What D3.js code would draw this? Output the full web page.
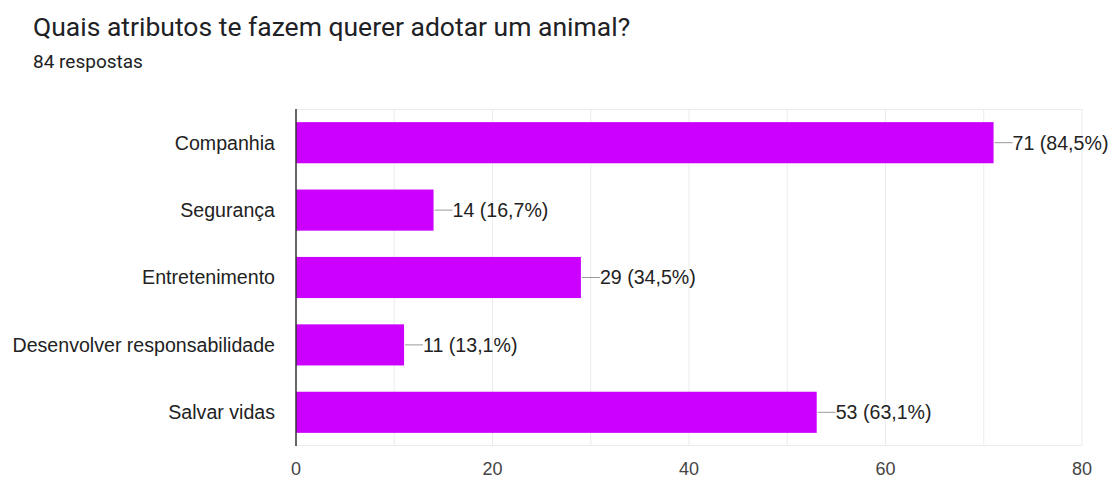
<!DOCTYPE html>
<html>
<head>
<meta charset="utf-8">
<script src="https://cdn.jsdelivr.net/npm/d3@7"></script>
<style>
  html, body { margin: 0; padding: 0; background: #fff; }
  svg { display: block; }
</style>
</head>
<body>
<svg id="chart" width="1112" height="480"></svg>
<script>
// Survey answers: "Quais atributos te fazem querer adotar um animal?"
const title = "Quais atributos te fazem querer adotar um animal?";
const subtitle = "84 respostas";
const categories = ["Companhia", "Segurança", "Entretenimento", "Desenvolver responsabilidade", "Salvar vidas"];
const counts = [71, 14, 29, 11, 53];
const percents = ["84,5%", "16,7%", "34,5%", "13,1%", "63,1%"];
const tickValues = [0, 20, 40, 60, 80];
const gridValues = [10, 20, 30, 40, 50, 60, 70, 80];

const svg = d3.select("#chart");
const margin = { left: 296, right: 30, top: 109, bottom: 34 };
const W = 1112, H = 480;
const labelFont = "'Liberation Sans', Arial, sans-serif";

const x = d3.scaleLinear().domain([0, 80]).range([margin.left, W - margin.right]);
const y = d3.scaleBand().domain(categories).range([margin.top, H - margin.bottom])
  .paddingInner(0.39).paddingOuter(0.195);

// Title block
svg.append("text").attr("x", 33).attr("y", 36)
  .attr("font-family", "Roboto, 'Noto Sans', sans-serif").attr("font-size", 26.5)
  .attr("fill", "#202124").text(title);
svg.append("text").attr("x", 33).attr("y", 68)
  .attr("font-family", "Roboto, 'Noto Sans', sans-serif").attr("font-size", 19)
  .attr("fill", "#202124").text(subtitle);

// Gridlines
svg.append("g").selectAll("line").data(gridValues).join("line")
  .attr("x1", d => x(d)).attr("x2", d => x(d))
  .attr("y1", margin.top).attr("y2", H - margin.bottom)
  .attr("stroke", "#ebebeb").attr("stroke-width", 1);
// Top and bottom frame lines
svg.append("line").attr("x1", x(0)).attr("x2", x(80))
  .attr("y1", margin.top + 0.5).attr("y2", margin.top + 0.5)
  .attr("stroke", "#ebebeb");
svg.append("line").attr("x1", x(0)).attr("x2", x(80))
  .attr("y1", H - margin.bottom - 0.5).attr("y2", H - margin.bottom - 0.5)
  .attr("stroke", "#ebebeb");

// Bars
svg.append("g").selectAll("rect").data(categories).join("rect")
  .attr("x", x(0)).attr("y", d => y(d))
  .attr("width", (d, i) => x(counts[i]) - x(0))
  .attr("height", y.bandwidth())
  .attr("fill", "#cc00ff");

// Baseline axis
svg.append("line").attr("x1", x(0)).attr("x2", x(0))
  .attr("y1", margin.top).attr("y2", H - margin.bottom)
  .attr("stroke", "#333").attr("stroke-width", 1.5);

// Category labels
svg.append("g").selectAll("text").data(categories).join("text")
  .attr("x", x(0) - 21).attr("y", d => y(d) + y.bandwidth() / 2)
  .attr("dy", "0.35em").attr("text-anchor", "end")
  .attr("font-family", labelFont).attr("font-size", 19.6)
  .attr("fill", "#222").text(d => d);

// Value annotations with leader lines
const ann = svg.append("g").selectAll("g").data(categories).join("g");
ann.append("line")
  .attr("x1", (d, i) => x(counts[i]) + 1).attr("x2", (d, i) => x(counts[i]) + 19)
  .attr("y1", d => y(d) + y.bandwidth() / 2).attr("y2", d => y(d) + y.bandwidth() / 2)
  .attr("stroke", "#999").attr("stroke-width", 1);
ann.append("text")
  .attr("x", (d, i) => x(counts[i]) + 19).attr("y", d => y(d) + y.bandwidth() / 2)
  .attr("dy", "0.35em")
  .attr("font-family", labelFont).attr("font-size", 19.6)
  .attr("fill", "#222").text((d, i) => `${counts[i]} (${percents[i]})`);

// X axis tick labels
svg.append("g").selectAll("text").data(tickValues).join("text")
  .attr("x", d => x(d)).attr("y", 475).attr("text-anchor", "middle")
  .attr("font-family", labelFont).attr("font-size", 18)
  .attr("fill", "#444").text(d => d);
</script>
</body>
</html>
